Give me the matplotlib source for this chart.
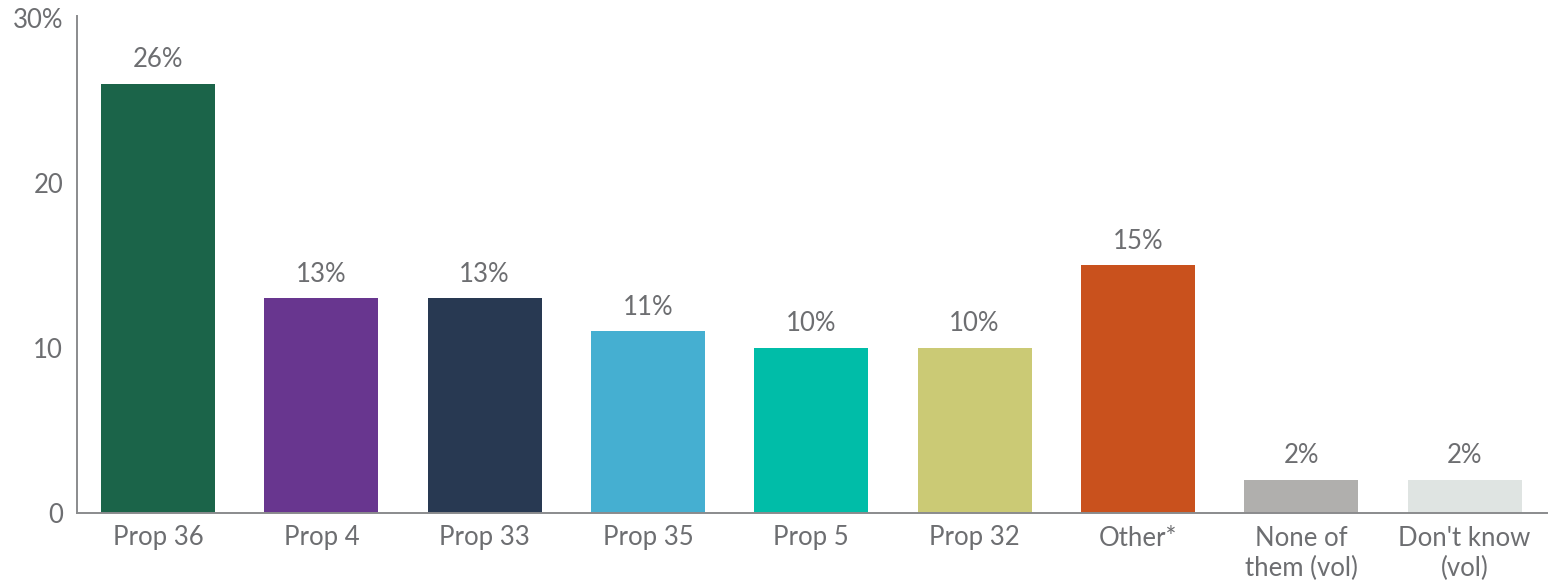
import matplotlib
matplotlib.use("Agg")
import matplotlib.pyplot as plt

categories = ["Prop 36", "Prop 4", "Prop 33", "Prop 35", "Prop 5", "Prop 32", "Other*", "None of\nthem (vol)", "Don't know\n(vol)"]
values = [26, 13, 13, 11, 10, 10, 15, 2, 2]
colors = ["#1b6449", "#68368f", "#283952", "#45afd1", "#00bda8", "#cbca75", "#c9511d", "#b0afad", "#dfe4e2"]
yticks = [0, 10, 20, 30]
ytick_labels = ["0", "10", "20", "30%"]

plt.rcParams['font.family'] = ['Lato', 'DejaVu Sans']
text_color = "#6d6e71"
spine_color = "#8a8b8d"
fs = 18.5

fig = plt.figure(figsize=(15.5, 5.84), dpi=100)
ax = fig.add_axes([77/1550, 1 - 513/584, (1547-77)/1550, (513-16)/584])

x = list(range(len(categories)))
bars = ax.bar(x, values, width=0.698, color=colors)
for xi, v in zip(x, values):
    ax.annotate(f"{v}%", (xi, v), xytext=(0, 8.5), textcoords="offset points",
                ha="center", va="bottom", fontsize=fs, color=text_color)

ax.set_xlim(-0.496, 8.505)
ax.set_ylim(0, 30.1)
ax.set_xticks(x)
ax.set_xticklabels(categories, fontsize=fs, color=text_color, linespacing=1.25)
ax.set_yticks(yticks)
ax.set_yticklabels(ytick_labels, fontsize=fs, color=text_color)
ax.tick_params(axis="both", length=0)
ax.tick_params(axis="x", pad=9)
ax.tick_params(axis="y", pad=10)
for s in ["top", "right"]:
    ax.spines[s].set_visible(False)
for s in ["left", "bottom"]:
    ax.spines[s].set_color(spine_color)
    ax.spines[s].set_linewidth(1.4)

fig.savefig("out.png", dpi=100)
